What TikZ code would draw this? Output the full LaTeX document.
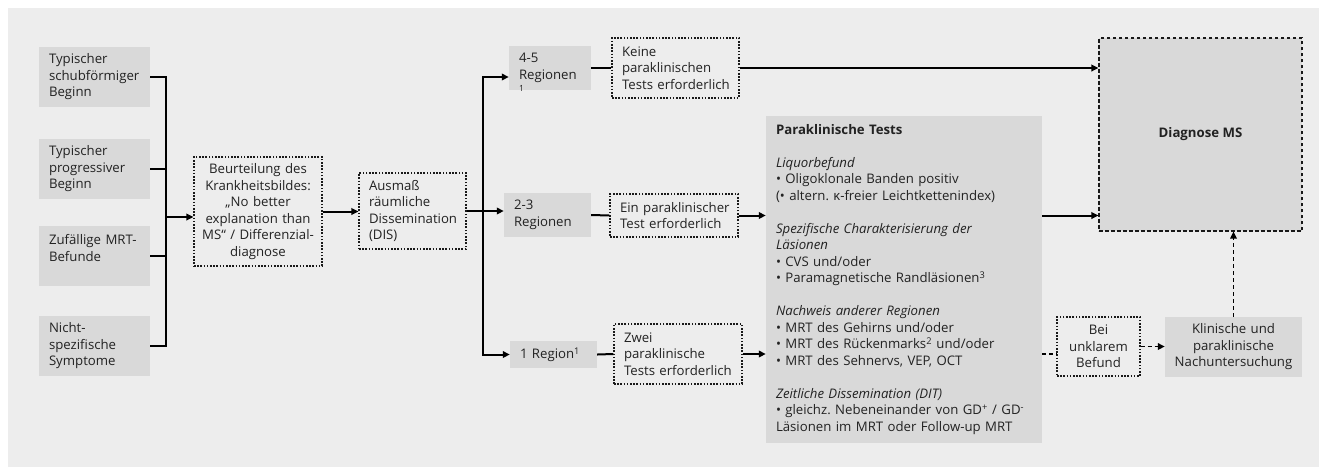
\documentclass[tikz,border=0pt]{standalone}
\usepackage{fontspec}
\setmainfont{Open Sans}
\usetikzlibrary{positioning, arrows.meta}
\definecolor{panelgrey}{HTML}{EDEDED}
\definecolor{boxgrey}{HTML}{D9D9D9}
\definecolor{textgrey}{HTML}{222222}
\hyphenpenalty=10000
\exhyphenpenalty=10000
\frenchspacing

\begin{document}
\begin{tikzpicture}[
        x=1pt, y=-1pt,
        font=\fontsize{13.2}{16.5}\selectfont,
        every node/.style={text=textgrey},
        greybox/.style={fill=boxgrey, inner ysep=0pt, inner xsep=10pt, align=left},
        dotbox/.style={draw=black!90, line width=1.1pt, dash pattern=on 1.6pt off 1.6pt, inner ysep=0pt, inner xsep=10pt, align=left},
        dashbox/.style={draw=black!90, fill=boxgrey, line width=1.1pt, dash pattern=on 3.5pt off 2.5pt, inner sep=0pt},
        link/.style={draw=black, line width=2pt},
        arrow/.style={link, -{Triangle[length=7pt, width=6.5pt]}},
        dashlink/.style={link, line width=1.6pt, dash pattern=on 4pt off 3pt},
        dasharrow/.style={dashlink, -{Triangle[length=7pt, width=6.5pt]}}
    ]

    % panel
    \useasboundingbox (0,0) rectangle (1319,467);
    \fill[panelgrey] (8,8) rectangle (1319,467);

    % onset types
    \node[greybox, text width=91pt, minimum height=60pt] (onset1) at (94.5,77) {Typischer\\schubförmiger\\Beginn};
    \node[greybox, text width=91pt, minimum height=60pt] (onset2) at (94.5,169) {Typischer\\progressiver\\Beginn};
    \node[greybox, text width=91pt, minimum height=60pt] (onset3) at (94.5,256) {Zufällige~MRT-\\Befunde\\\mbox{}};
    \node[greybox, text width=91pt, minimum height=60pt] (onset4) at (94.5,346) {Nicht-\\spezifische\\Symptome};

    \node[dotbox, align=center, inner xsep=4pt, text width=120pt, minimum height=109pt] (beur) at (258,211.5)
        {Beurteilung~des\\Krankheitsbildes:\\„No~better\\explanation~than\\MS“~/~Differenzial-\\diagnose};
    \node[dotbox, text width=87pt, minimum height=76pt] (dis) at (412.5,211) {Ausmaß\\räumliche\\Dissemination\\(DIS)};

    % regions
    \node[greybox, text width=62pt, minimum height=44pt] (r45) at (550,68)
        {4-5\\\leavevmode\rlap{\smash{\raisebox{-12pt}{\fontsize{8.5}{10}\selectfont 1}}}Regionen};
    \node[greybox, text width=67pt, minimum height=44pt] (r23) at (547.5,215) {2-3\\Regionen};
    \node[greybox, text width=67pt, minimum height=27pt] (r1) at (553.5,354.5) {1~Region\textsuperscript{1}};

    \node[dotbox, text width=107pt, minimum height=60pt] (keine) at (675.5,68) {Keine\\paraklinischen\\Tests~erforderlich};
    \node[dotbox, text width=108pt, minimum height=43pt] (ein) at (674,215.5) {Ein~paraklinischer\\Test~erforderlich};
    \node[dotbox, text width=108pt, minimum height=60pt] (zwei) at (678,354) {Zwei\\paraklinische\\Tests~erforderlich};

    % tests
    \node[greybox, text width=256pt, minimum height=327pt] (para) at (904,279.5) {%
        \textbf{Paraklinische Tests}\\[16.5pt]
        \textit{Liquorbefund}\\
        • Oligoklonale Banden positiv\\
        (• altern. κ-freier Leichtkettenindex)\\[16.5pt]
        \textit{Spezifische Charakterisierung der}\\
        \textit{Läsionen}\\
        • CVS und/oder\\
        • Paramagnetische Randläsionen\textsuperscript{3}\\[16.5pt]
        \textit{Nachweis anderer Regionen}\\
        • MRT des Gehirns und/oder\\
        • MRT des Rückenmarks\textsuperscript{2} und/oder\\
        • MRT des Sehnervs, VEP, OCT\\[16.5pt]
        \textit{Zeitliche Dissemination (DIT)}\\
        • gleichz. Nebeneinander von GD\textsuperscript{+} / GD\textsuperscript{-}\\
        Läsionen im MRT oder Follow-up MRT};

    \node[dashbox, minimum width=203pt, minimum height=193pt] (diag) at (1200.5,134.5) {\textbf{Diagnose MS}};
    \node[dotbox, align=center, inner xsep=3pt, text width=77pt, minimum height=59pt] (bei) at (1098.5,346.5) {Bei\\unklarem\\Befund};
    \node[greybox, align=center, inner xsep=3pt, text width=131pt, minimum height=60pt] (klin) at (1233.5,347) {Klinische~und\\paraklinische\\Nachuntersuchung};

    % connectors
    \coordinate (join1) at (166,217);
    \foreach \n in {onset1,onset2,onset3,onset4}
        \draw[link] (\n.east) -| (join1);
    \draw[arrow] (join1) -- (join1 -| beur.west);
    \draw[arrow] (beur.east) -- (beur.east -| dis.west);

    \coordinate (join2) at (483,211);
    \draw[link] (dis.east) -- (join2);
    \draw[arrow] (join2) -- (join2 -| r23.west);
    \draw[arrow] (join2) |- ([yshift=-9pt]r45.west);
    \draw[arrow] (join2) |- (r1.west);

    \draw[link] (r45.east) -- (keine.west);
    \draw[link] (r23.east) -- (ein.west);
    \draw[link] (r1.east) -- (zwei.west);

    \draw[arrow] (keine.east) -- (keine.east -| diag.west);
    \draw[arrow] (ein.east) -- (ein.east -| para.west);
    \draw[arrow] (zwei.east) -- (zwei.east -| para.west);
    \draw[arrow] (ein.east -| para.east) -- (ein.east -| diag.west);

    \draw[dashlink] (zwei.east -| para.east) -- (zwei.east -| bei.west);
    \draw[dasharrow] (bei.east) -- (bei.east -| klin.west);
    \draw[dasharrow] (klin.north) -- (klin.north |- diag.south);

\end{tikzpicture}
\end{document}
